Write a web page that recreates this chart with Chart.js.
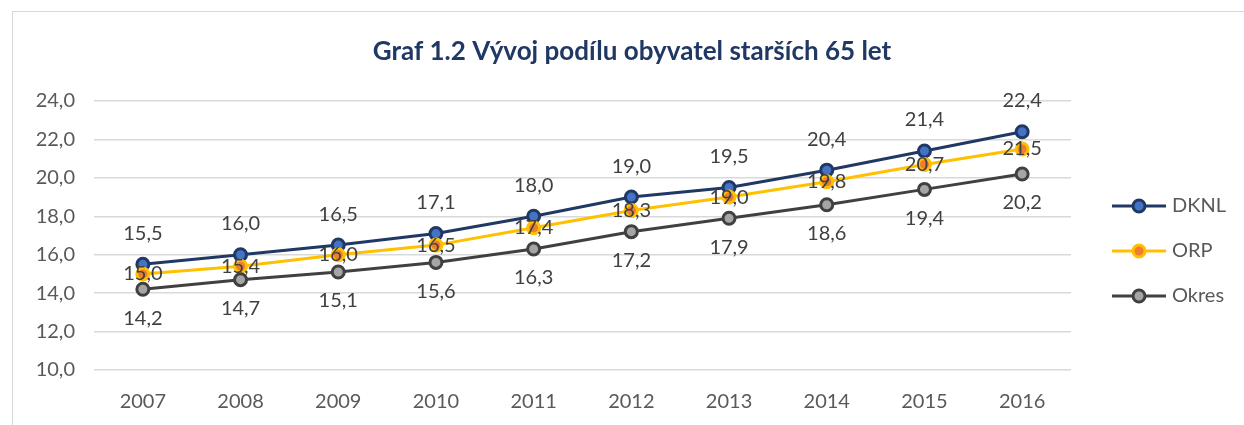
<!DOCTYPE html>
<html>
<head>
<meta charset="utf-8">
<script src="https://cdn.jsdelivr.net/npm/chart.js@4/dist/chart.umd.min.js"></script>
<style>
  body { margin: 0; background: #fff; }
  #frame { position: absolute; left: 12px; top: 11px; width: 1250px; height: 430px; border: 1px solid #d9d9d9; }
  #wrap { position: absolute; left: 0; top: 0; width: 1244px; height: 425px; }
</style>
</head>
<body>
<div id="frame"></div>
<div id="wrap"><canvas id="graf"></canvas></div>
<script>
const years = ['2007','2008','2009','2010','2011','2012','2013','2014','2015','2016'];
const dknl = [15.5, 16.0, 16.5, 17.1, 18.0, 19.0, 19.5, 20.4, 21.4, 22.4];
const orp = [15.0, 15.4, 16.0, 16.5, 17.4, 18.3, 19.0, 19.8, 20.7, 21.5];
const okres = [14.2, 14.7, 15.1, 15.6, 16.3, 17.2, 17.9, 18.6, 19.4, 20.2];
const nadpis = 'Graf 1.2 Vývoj podílu obyvatel starších 65 let';

const FONT = 'Lato, "Noto Sans", sans-serif';
const fmt = v => v.toFixed(1).replace('.', ',');

// popisky hodnot: DKNL nad, ORP na stredu, Okres pod
const labelShift = [-31, 0, 29];

const valueLabels = {
    id: 'valueLabels',
    afterDatasetsDraw(chart) {
        const ctx = chart.ctx;
        ctx.save();
        ctx.font = '20px ' + FONT;
        ctx.fillStyle = '#404040';
        ctx.textAlign = 'center';
        ctx.textBaseline = 'middle';
        chart.data.datasets.forEach((ds, i) => {
            chart.getDatasetMeta(i).data.forEach((pt, j) => {
                ctx.fillText(fmt(ds.data[j]), pt.x, pt.y + labelShift[i]);
            });
        });
        ctx.restore();
    }
};

// nadpis a legenda vpravo kreslene rucne
const extras = {
    id: 'extras',
    afterDraw(chart) {
        const ctx = chart.ctx;
        ctx.save();
        ctx.font = 'bold 26px ' + FONT;
        ctx.fillStyle = '#203864';
        ctx.textAlign = 'center';
        ctx.textBaseline = 'middle';
        ctx.fillText(nadpis, 632, 52);

        ctx.textAlign = 'left';
        chart.data.datasets.forEach((ds, i) => {
            const y = 206 + 45 * i;
            ctx.strokeStyle = ds.borderColor;
            ctx.lineWidth = 3;
            ctx.beginPath();
            ctx.moveTo(1112, y);
            ctx.lineTo(1166, y);
            ctx.stroke();
            ctx.beginPath();
            ctx.arc(1139, y, 6, 0, Math.PI * 2);
            ctx.fillStyle = ds.pointBackgroundColor;
            ctx.fill();
            ctx.strokeStyle = ds.pointBorderColor;
            ctx.stroke();
            ctx.font = '20px ' + FONT;
            ctx.fillStyle = '#595959';
            ctx.fillText(ds.label, 1172, y);
        });
        ctx.restore();
    }
};

function series(label, data, line, fill, order) {
    return {
        label: label,
        data: data,
        borderColor: line,
        borderWidth: 3,
        pointRadius: 6,
        pointBorderWidth: 3,
        pointBackgroundColor: fill,
        pointBorderColor: line,
        pointHoverRadius: 6,
        tension: 0,
        order: order
    };
}

const config = {
    type: 'line',
    data: {
        labels: years,
        datasets: [
            series('DKNL', dknl, '#203864', '#4472c4', 2),
            series('ORP', orp, '#ffc000', '#ed7d31', 1),
            series('Okres', okres, '#404040', '#a5a5a5', 0)
        ]
    },
    options: {
        responsive: true,
        maintainAspectRatio: false,
        animation: false,
        layout: { padding: { left: 0, right: 173, top: 101, bottom: 0 } },
        plugins: {
            legend: { display: false },
            tooltip: { enabled: false },
            title: { display: false }
        },
        scales: {
            x: {
                offset: true,
                grid: { display: false, drawTicks: false },
                border: { display: false },
                ticks: { color: '#595959', font: { family: FONT, size: 20 }, padding: 20 },
                afterFit: s => { s.height = 55; }
            },
            y: {
                min: 10,
                max: 24,
                grid: { color: '#d9d9d9', lineWidth: 1.5, drawTicks: false },
                border: { display: false },
                ticks: {
                    stepSize: 2,
                    color: '#595959',
                    font: { family: FONT, size: 20 },
                    padding: 19,
                    callback: v => fmt(v)
                },
                afterFit: s => { s.width = 94; }
            }
        }
    },
    plugins: [valueLabels, extras]
};

const canvas = document.getElementById('graf');
const graf = new Chart(canvas, config);
</script>
</body>
</html>
